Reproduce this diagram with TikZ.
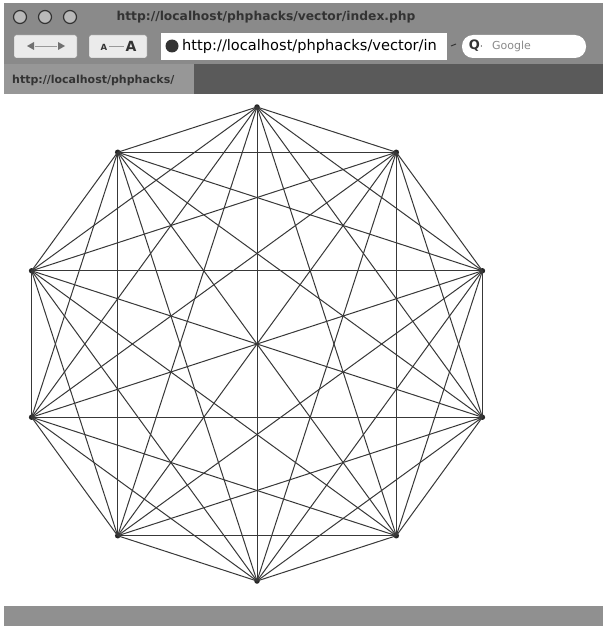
\documentclass[tikz,border=0pt]{standalone}
\usepackage{fontspec}
\setmainfont{DejaVu Sans}
\usetikzlibrary{positioning}
\definecolor{Frame}{HTML}{8A8A8A}
\definecolor{Bar}{HTML}{5A5A5A}
\definecolor{Tab}{HTML}{979797}
\definecolor{Ink}{HTML}{333333}
\definecolor{Wire}{HTML}{383838}

\begin{document}
\begin{tikzpicture}[x=1pt, y=-1pt,
  every node/.style={inner sep=0pt, font=\small},
  vdot/.style={circle, fill=black!85, minimum size=5.5pt},
  edge/.style={draw=Wire, line width=1pt},
  btn/.style={fill=white!92!black, draw=Ink!60, rounded corners=2pt}]
  \useasboundingbox (0,0) rectangle (603,626);
  \fill[white] (0,0) rectangle (603,626);

  % window chrome
  \fill[Frame] (4,3) rectangle (603,64);
  \fill[Bar] (4,64) rectangle (603,94);
  \fill[Tab] (4,64) rectangle (194,94);
  \fill[Frame!95] (4,606) rectangle (603,626);
  \foreach \x in {20,45,70}
    \draw[Ink, fill=Frame!60, line width=1.2pt] (\x,17) circle (6.5);
  \node[font=\bfseries\fontsize{12.3}{12.3}\selectfont, text=Ink] (title) at (266,17)
    {http://localhost/phphacks/vector/index.php};

  % toolbar
  \draw[btn] (14,35) rectangle (77,58);
  \fill[Ink!70] (27,46) -- (34,42) -- (34,50) -- cycle;
  \fill[Ink!70] (65,46) -- (58,42) -- (58,50) -- cycle;
  \draw[Ink!50] (35,46) -- (57,46);
  \draw[btn] (89,35) rectangle (147,58);
  \node[font=\bfseries\fontsize{8.5}{8.5}\selectfont, text=Ink] (asmall) at (104,47) {A};
  \node[font=\bfseries\fontsize{14}{14}\selectfont, text=Ink] (abig) at (131,46) {A};
  \draw[Ink!50] (109,46) -- (124,46);
  \fill[white] (161,33) rectangle (447,60);
  \fill[Ink] (172,46) circle (6.5);
  \begin{scope}
    \clip (161,33) rectangle (447,60);
    \node[anchor=west, font=\fontsize{14.6}{14.6}\selectfont, text=black] (url) at (182,46)
      {http://localhost/phphacks/vector/in};
  \end{scope}
  \draw[Ink, line width=1pt] (451,46) -- (456,44);
  \fill[white, rounded corners=11pt] (462,35) rectangle (586,58);
  \node[font=\bfseries\fontsize{13}{13}\selectfont, text=Ink] (lens) at (476,46) {Q$\cdot$};
  \node[anchor=west, font=\fontsize{11}{11}\selectfont, text=Frame] (search) at (492,46) {Google};
  \node[anchor=west, font=\bfseries\fontsize{11}{11}\selectfont, text=Ink] (mark) at (12,80)
    {http://localhost/phphacks/};

  % the ten points, every pair joined
  \foreach \k in {0,...,9}
    \node[vdot] (v\k) at ({257+237*cos(90-36*\k)},{344-237*sin(90-36*\k)}) {};
  \foreach \i in {0,...,8}{
    \pgfmathtruncatemacro{\nxt}{\i+1}
    \foreach \j in {\nxt,...,9}
      \draw[edge] (v\i.center) -- (v\j.center);
  }
\end{tikzpicture}
\end{document}
